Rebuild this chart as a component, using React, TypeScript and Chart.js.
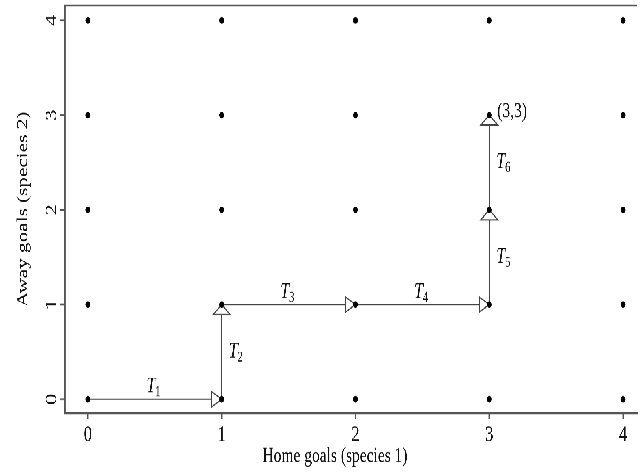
import React, { useEffect, useRef } from 'react';
import { Chart, registerables } from 'chart.js';

Chart.register(...registerables);

// ---- data ----
const homeGoals = [0, 1, 2, 3, 4];
const awayGoals = [0, 1, 2, 3, 4];
const xTicks = [0, 1, 2, 3, 4];
const yTicks = [0, 1, 2, 3, 4];
const pathX = [0, 1, 1, 3, 3];
const pathY = [0, 0, 1, 1, 3];
const stepFromX = [0, 1, 1, 2, 3, 3];
const stepFromY = [0, 0, 1, 1, 1, 2];
const stepToX = [1, 1, 2, 3, 3, 3];
const stepToY = [0, 1, 1, 1, 2, 3];
const stepNames = ['1', '2', '3', '4', '5', '6'];
const endLabel = '(3,3)';
const xTitle = 'Home goals (species 1)';
const yTitle = 'Away goals (species 2)';
const xRange = [-0.171, 4.104];
const yRange = [-0.147, 4.158];

const FAMILY = '"Liberation Serif", "DejaVu Serif", serif';
const INK = '#111';
const FRAME = '#555';
const LINE = '#444';

const W = 641;
const H = 345;
const STRETCH = 472 / H;

const zeroPad = (s: any) => {
  s.paddingTop = 0;
  s.paddingBottom = 0;
  s.paddingLeft = 0;
  s.paddingRight = 0;
};

const annot = {
  id: 'annot',
  afterDatasetDraw(chart: any, args: any) {
    if (args.index !== 0) return;
    const ctx = chart.ctx;
    const xs = chart.scales.x;
    const ys = chart.scales.y;
    ctx.save();
    ctx.strokeStyle = LINE;
    ctx.fillStyle = '#fff';
    ctx.lineWidth = 1;
    for (let i = 0; i < stepToX.length; i++) {
      const px = xs.getPixelForValue(stepToX[i]);
      const py = ys.getPixelForValue(stepToY[i]);
      const horizontal = stepToX[i] !== stepFromX[i];
      ctx.beginPath();
      if (horizontal) {
        ctx.moveTo(px, py);
        ctx.lineTo(px - 10, py - 5.5);
        ctx.lineTo(px - 10, py + 5.5);
      } else {
        ctx.moveTo(px, py);
        ctx.lineTo(px - 8.5, py + 7.3);
        ctx.lineTo(px + 8.5, py + 7.3);
      }
      ctx.closePath();
      ctx.fill();
      ctx.stroke();
    }
    ctx.restore();
  },
  afterDraw(chart: any) {
    const ctx = chart.ctx;
    const xs = chart.scales.x;
    const ys = chart.scales.y;
    const area = chart.chartArea;
    ctx.save();
    // top frame line
    ctx.strokeStyle = FRAME;
    ctx.lineWidth = 1.3;
    ctx.beginPath();
    ctx.moveTo(area.left, area.top);
    ctx.lineTo(area.right, area.top);
    ctx.stroke();

    // step labels T_i
    ctx.fillStyle = INK;
    ctx.textBaseline = 'alphabetic';
    ctx.textAlign = 'left';
    for (let i = 0; i < stepNames.length; i++) {
      const mx = xs.getPixelForValue((stepFromX[i] + stepToX[i]) / 2);
      const my = ys.getPixelForValue((stepFromY[i] + stepToY[i]) / 2);
      ctx.font = `italic 16.5px ${FAMILY}`;
      const wT = ctx.measureText('T').width;
      ctx.font = `11px ${FAMILY}`;
      const wS = ctx.measureText(stepNames[i]).width;
      const horizontal = stepToX[i] !== stepFromX[i];
      let sx: number;
      let by: number;
      if (horizontal) {
        sx = mx - (wT + wS) / 2 - 1;
        by = my - 5;
      } else {
        sx = mx + 7;
        by = my + 4;
      }
      ctx.font = `italic 16.5px ${FAMILY}`;
      ctx.fillText('T', sx, by);
      ctx.font = `11px ${FAMILY}`;
      ctx.fillText(stepNames[i], sx + wT - 0.5, by + 3);
    }

    // end point label
    const n = stepToX.length - 1;
    ctx.font = `15.5px ${FAMILY}`;
    ctx.textBaseline = 'middle';
    ctx.fillText(endLabel, xs.getPixelForValue(stepToX[n]) + 8, ys.getPixelForValue(stepToY[n]) - 2.5);

    // x axis title
    ctx.textAlign = 'center';
    ctx.font = `15.5px ${FAMILY}`;
    ctx.fillText(xTitle, 335, 333.5);
    ctx.restore();
  },
};

export default function App() {
  const ref = useRef<HTMLCanvasElement | null>(null);
  useEffect(() => {
    const canvas = ref.current;
    if (!canvas) return;
    const dots: { x: number; y: number }[] = [];
    for (const hx of homeGoals) for (const ay of awayGoals) dots.push({ x: hx, y: ay });
    const path = pathX.map((v, i) => ({ x: v, y: pathY[i] }));
    const chart = new Chart(canvas, {
      type: 'scatter',
      data: {
        datasets: [
          {
            data: path,
            showLine: true,
            borderColor: LINE,
            borderWidth: 1,
            pointRadius: 0,
            order: 1,
          },
          {
            data: dots,
            pointRadius: 2.4,
            pointBackgroundColor: '#000',
            pointBorderWidth: 0,
            order: 0,
          },
        ],
      },
      options: {
        responsive: false,
        animation: false,
        devicePixelRatio: 3,
        events: [],
        layout: { padding: { top: 2, left: 0, right: 0, bottom: 0 } },
        plugins: { legend: { display: false }, tooltip: { enabled: false }, title: { display: false } },
        scales: {
          x: {
            type: 'linear',
            min: xRange[0],
            max: xRange[1],
            afterBuildTicks: (s: any) => {
              s.ticks = xTicks.map((v) => ({ value: v }));
            },
            afterFit: (s: any) => {
              s.height = 43;
              zeroPad(s);
            },
            grid: { drawOnChartArea: false, drawTicks: true, tickLength: 4, tickColor: FRAME, tickWidth: 1.3 },
            border: { display: true, color: FRAME, width: 1.3 },
            ticks: {
              color: INK,
              font: { family: FAMILY, size: 16.5 },
              padding: 2,
              maxRotation: 0,
              minRotation: 0,
              callback: (v: any) => String(v),
            },
          },
          y: {
            type: 'linear',
            min: yRange[0],
            max: yRange[1],
            afterBuildTicks: (s: any) => {
              s.ticks = yTicks.map((v) => ({ value: v }));
            },
            afterFit: (s: any) => {
              s.width = 65;
              zeroPad(s);
            },
            grid: { drawOnChartArea: false, drawTicks: true, tickLength: 5, tickColor: FRAME, tickWidth: 1.3 },
            border: { display: true, color: FRAME, width: 1.3 },
            title: {
              display: true,
              text: yTitle,
              color: INK,
              font: { family: FAMILY, size: 15.5 },
              padding: { top: 14, bottom: 0 },
            },
            ticks: {
              color: INK,
              font: { family: FAMILY, size: 16.5 },
              padding: 4,
              minRotation: 90,
              maxRotation: 90,
              crossAlign: 'center',
              callback: (v: any) => String(v),
            },
          },
        },
      },
      plugins: [annot],
    } as any);
    return () => chart.destroy();
  }, []);

  return (
    <div
      style={{
        position: 'absolute',
        left: 0,
        top: 0,
        width: W,
        height: H,
        transform: `scaleY(${STRETCH})`,
        transformOrigin: '0 0',
        background: '#fff',
      }}
    >
      <canvas ref={ref} width={W} height={H} style={{ display: 'block' }} />
    </div>
  );
}
